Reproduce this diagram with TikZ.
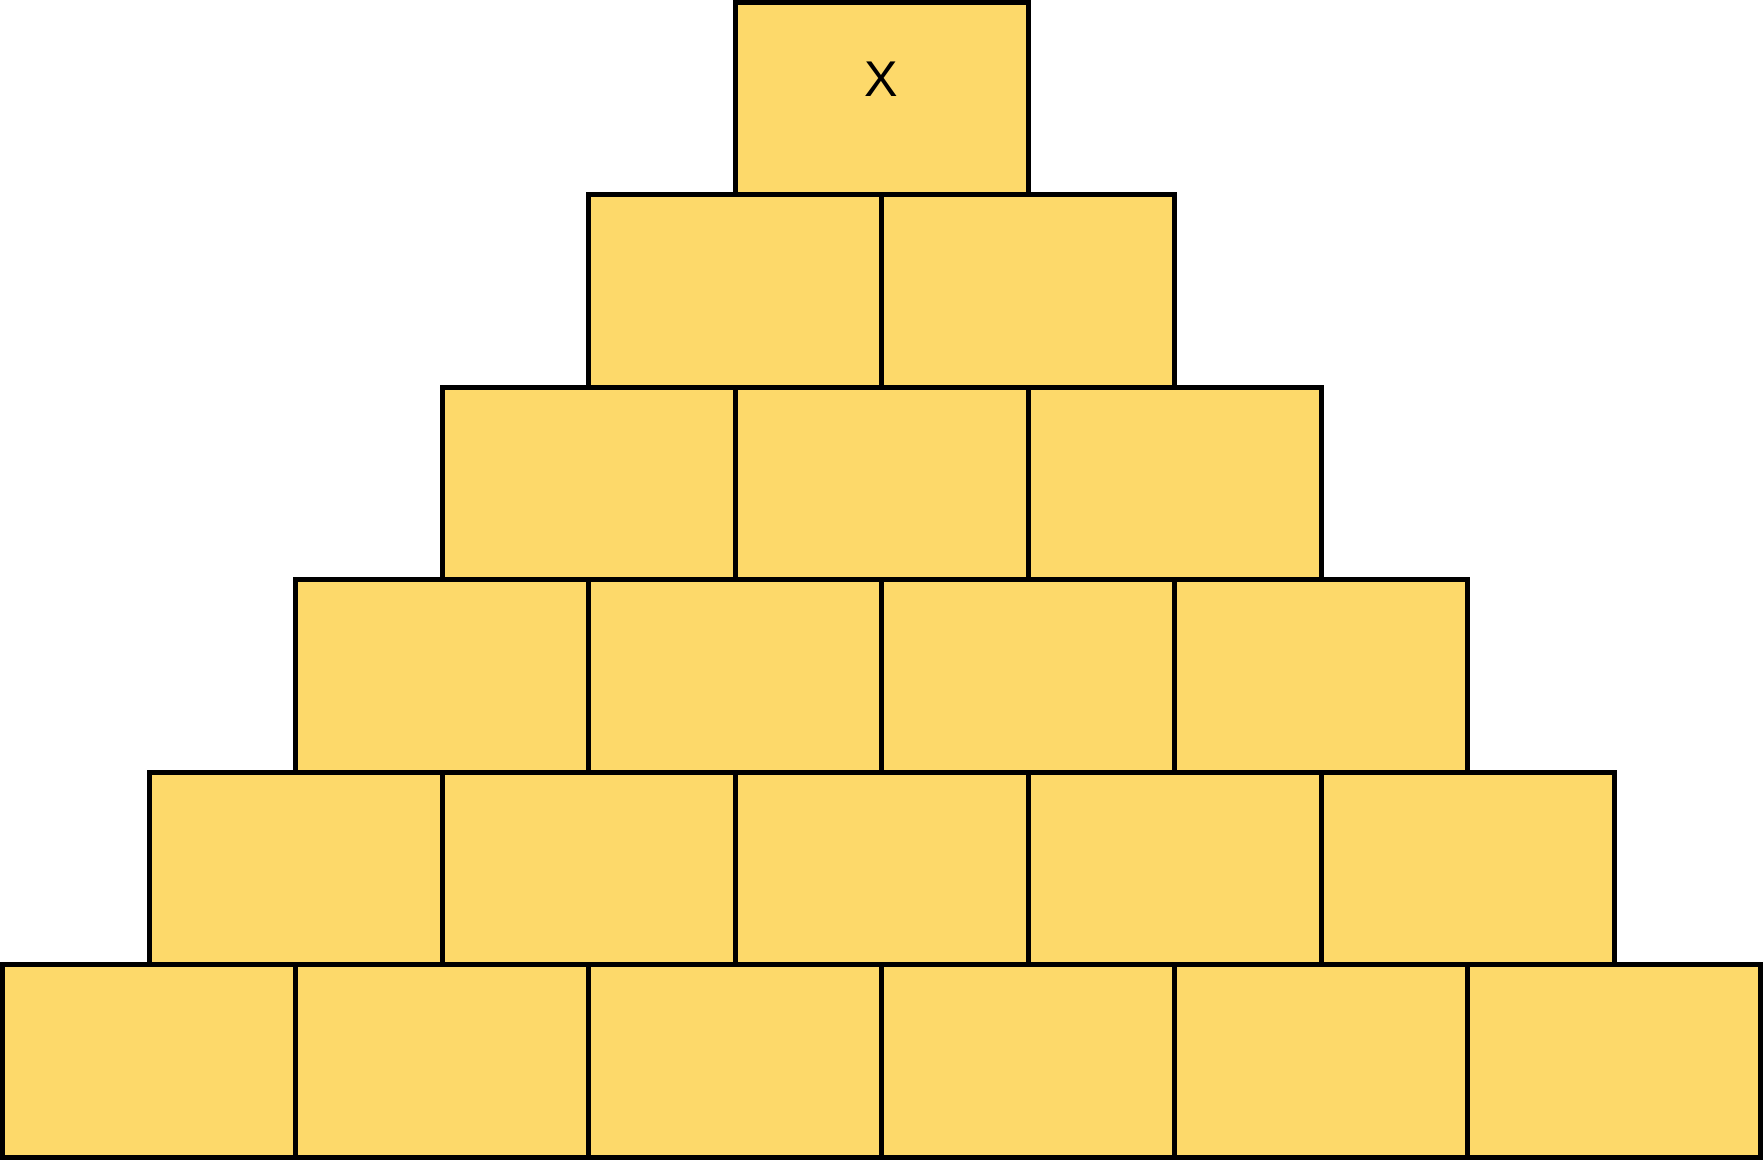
\documentclass[tikz,border=0pt]{standalone}
\usepackage{fontspec}
\setmainfont{Liberation Sans}
\usepackage{tikz}
\definecolor{brickyellow}{HTML}{FDD96A}

\begin{document}
\begin{tikzpicture}[x=1cm, y=1cm]
  \useasboundingbox (0, 0) rectangle (17.63, 11.60);
  \tikzset{
    brick/.style={draw=black, fill=brickyellow, line width=0.05cm,
      minimum width=2.93cm, minimum height=1.925cm, inner sep=0pt, outer sep=0pt}
  }

  % Bricks, bottom row first
  \foreach \r in {0,...,5} {
    \pgfmathtruncatemacro{\last}{5-\r}
    \foreach \c in {0,...,\last} {
      \node[brick] (b-\r-\c) at ({0.025 + \r*1.465 + \c*2.93 + 1.465}, {0.025 + \r*1.925 + 0.9625}) {};
    }
  }

  % Label in the top brick
  \node[font=\fontsize{14.3}{17}\selectfont, yshift=0.2cm] (toplabel) at (b-5-0) {X};
\end{tikzpicture}
\end{document}
